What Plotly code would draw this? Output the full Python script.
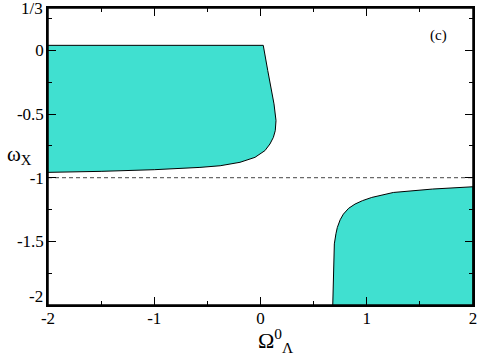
import plotly.graph_objects as go

# upper-left allowed region (boundary traced clockwise from top-left)
left_x = [-2.0, 0.026, 0.068, 0.099, 0.127, 0.146, 0.139, 0.121, 0.089, 0.042,
          -0.052, -0.193, -0.38, -0.57, -1.0, -1.5, -2.0]
left_y = [0.04, 0.04, -0.157, -0.289, -0.42, -0.551, -0.63, -0.683, -0.735, -0.787,
          -0.84, -0.879, -0.906, -0.919, -0.937, -0.95, -0.958]

# lower-right allowed region
right_x = [0.68, 0.685, 0.69, 0.695, 0.71, 0.723, 0.75, 0.78, 0.83, 0.89,
           0.96, 1.047, 1.25, 1.62, 2.0, 2.0]
right_y = [-2.0, -1.8, -1.6, -1.52, -1.44, -1.391, -1.33, -1.286, -1.24, -1.207,
           -1.18, -1.155, -1.116, -1.089, -1.071, -2.0]

phantom_w = -1.0
x_ticks = [-2, -1, 0, 1, 2]
x_ticktext = ["-2", "-1", "0", "1", "2"]
y_ticks = [-2, -1.5, -1, -0.5, 0]
# the two end labels are placed as annotations (nudged like in the original)
y_ticktext = ["", "-1.5", "-1", "-0.5", "0"]

fill = "#40E0D0"
font = "Liberation Serif"

fig = go.Figure()
for xs, ys in [(left_x, left_y), (right_x, right_y)]:
    fig.add_trace(go.Scatter(x=xs, y=ys, fill="toself", fillcolor=fill,
                             mode="lines", line=dict(color="black", width=1),
                             hoverinfo="skip", showlegend=False))

fig.add_trace(go.Scatter(x=[-2, 2], y=[phantom_w, phantom_w], mode="lines",
                         line=dict(color="#444444", width=1, dash="4px,3px"),
                         hoverinfo="skip", showlegend=False))

axis_common = dict(showline=True, linecolor="black", linewidth=1.5, mirror="allticks",
                   ticks="inside", ticklen=8, tickcolor="black", tickwidth=1,
                   showgrid=False, zeroline=False, automargin=False,
                   tickfont=dict(family=font, size=17, color="black"))

fig.update_xaxes(range=[-2, 2], tickvals=x_ticks, ticktext=x_ticktext,
                 ticklabelstandoff=-3,
                 minor=dict(tickvals=[-1.5, -0.5, 0.5, 1.5], ticklen=4, ticks="inside",
                            tickcolor="black"),
                 **axis_common)
fig.update_yaxes(range=[-2, 1/3], tickvals=y_ticks, ticktext=y_ticktext,
                 ticklabelstandoff=-1,
                 minor=dict(tickvals=[-1.75, -1.25, -0.75, -0.25, 0.25], ticklen=4,
                            ticks="inside", tickcolor="black"),
                 **axis_common)

# frame around the plotting area
fig.add_shape(type="rect", xref="paper", yref="paper", x0=0, x1=1, y0=0, y1=1,
              line=dict(color="black", width=1.5), layer="above")

tick_font = dict(family=font, size=17, color="black")
fig.add_annotation(text="1/3", xref="paper", yref="paper", x=-0.008, y=1.0,
                   xanchor="right", yanchor="middle", showarrow=False, font=tick_font)
fig.add_annotation(text="-2", xref="paper", yref="paper", x=-0.008, y=0.028,
                   xanchor="right", yanchor="middle", showarrow=False, font=tick_font)

fig.add_annotation(text="ω<sub>X</sub>", xref="paper", yref="paper", x=-0.068, y=0.505,
                   xanchor="center", yanchor="middle", showarrow=False,
                   font=dict(family=font, size=21, color="black"))
fig.add_annotation(text="Ω<sup>0</sup><sub>Λ</sub>", xref="paper", yref="paper",
                   x=0.536, y=-0.118, xanchor="center", yanchor="middle",
                   showarrow=False, font=dict(family=font, size=22, color="black"))
fig.add_annotation(text="(c)", xref="paper", yref="paper", x=0.918, y=0.909,
                   xanchor="center", yanchor="middle", showarrow=False,
                   font=dict(family=font, size=15, color="black"))

fig.update_layout(width=479, height=357, margin=dict(l=48, r=6, t=8, b=52),
                  plot_bgcolor="white", paper_bgcolor="white")

# drop the default body margin of the page so the figure sits at the window corner
fig.write_html("out.html", config={"displayModeBar": False},
               post_script="document.body.style.margin='0px';")
